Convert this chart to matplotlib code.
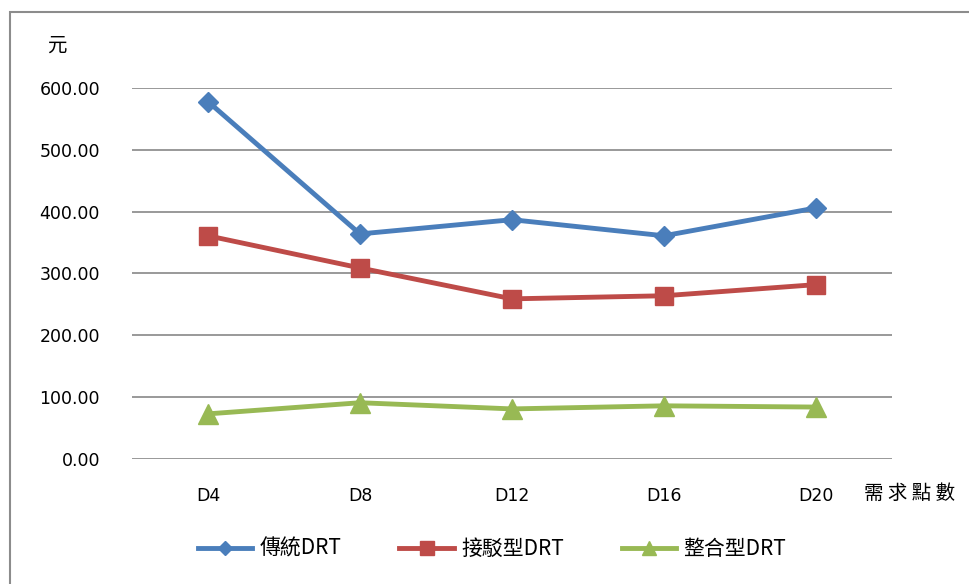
import matplotlib
matplotlib.use("Agg")
import matplotlib.pyplot as plt
from matplotlib.patches import Rectangle

categories = ["D4", "D8", "D12", "D16", "D20"]
traditional = [578, 364, 387, 361, 406]
feeder = [361, 309, 259, 264, 282]
integrated = [73, 91, 81, 86, 84]
series_names = ["傳統DRT", "接駁型DRT", "整合型DRT"]
y_ticks = [0, 100, 200, 300, 400, 500, 600]

cjk = ["Noto Sans CJK TC", "DejaVu Sans"]

W, H = 969, 584
fig = plt.figure(figsize=(W / 100, H / 100), dpi=100)
fig.patch.set_facecolor("white")

# outer chart frame
fig.patches.append(Rectangle((10 / W, -0.05), 1.2, 1 - 12 / H + 0.05,
                             transform=fig.transFigure, fill=False,
                             edgecolor="#8c8c8c", linewidth=1.5))

ax = fig.add_axes([132 / W, 1 - 459 / H, 760 / W, (459 - 88) / H])
x = list(range(len(categories)))

ax.plot(x, traditional, color="#4A7EBB", lw=3.5, marker="D", ms=10,
        label=series_names[0], zorder=3)
ax.plot(x, feeder, color="#BE4B48", lw=3.5, marker="s", ms=13,
        label=series_names[1], zorder=3)
ax.plot(x, integrated, color="#98B954", lw=3.5, marker="^", ms=14,
        label=series_names[2], zorder=3)

ax.set_xlim(-0.5, len(categories) - 0.5)
ax.set_ylim(0, 600)
ax.set_yticks(y_ticks)
ax.set_yticklabels([f"{v:.2f}" for v in y_ticks], fontsize=12.5)
ax.set_xticks(x)
ax.set_xticklabels(categories, fontsize=12.5)
ax.tick_params(length=0)
ax.tick_params(axis="x", pad=20)
ax.tick_params(axis="y", pad=23)
ax.grid(axis="y", color="#878787", lw=1.2, zorder=0)
for s in ax.spines.values():
    s.set_visible(False)

fig.text(57 / W, 1 - 45 / H, "元", fontsize=14, family=cjk,
         ha="center", va="center")
fig.text(864 / W, 1 - 493 / H, "需 求 點 數", fontsize=14, family=cjk,
         ha="left", va="center")

leg = fig.legend(loc="center", bbox_to_anchor=(492 / W, 1 - 549 / H),
                 ncol=3, frameon=False, prop={"family": cjk, "size": 15},
                 handlelength=2.6, columnspacing=2.8, handletextpad=0.35,
                 markerscale=0.75)

fig.savefig("out.png", dpi=100, facecolor="white")
